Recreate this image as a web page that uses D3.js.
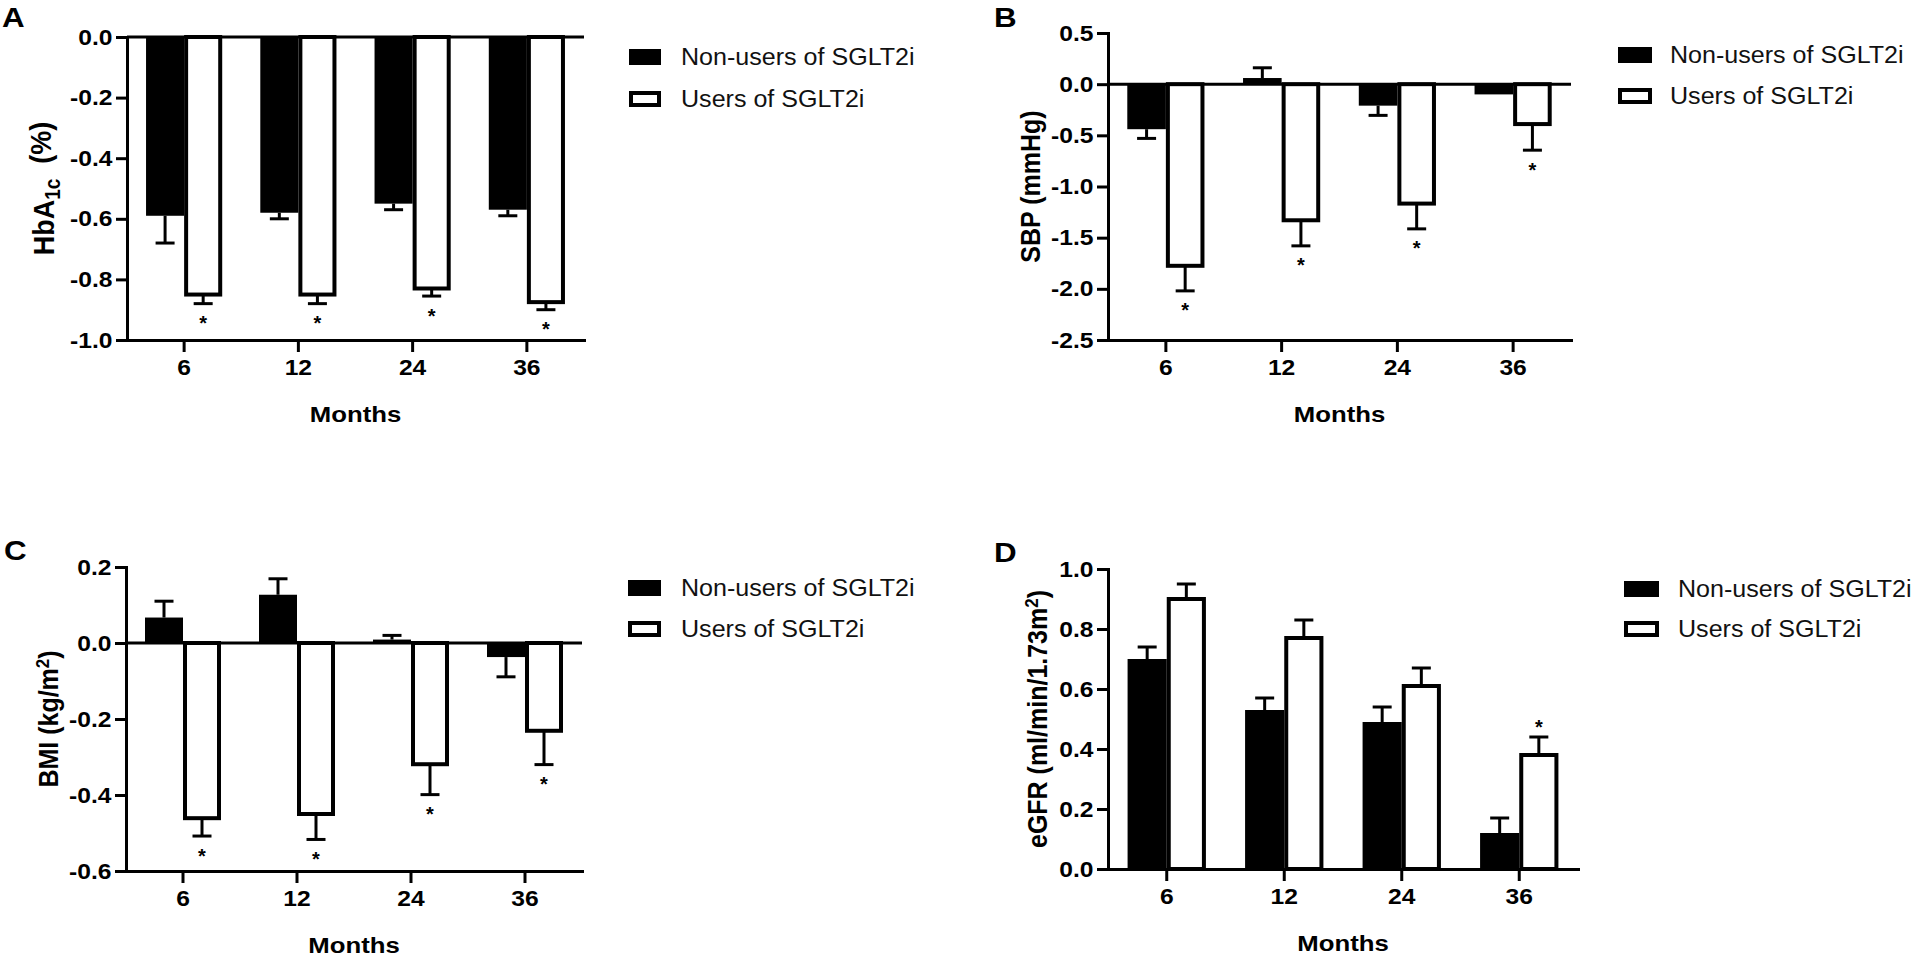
<!DOCTYPE html>
<html><head><meta charset="utf-8">
<script src="https://cdn.jsdelivr.net/npm/d3@7"></script>
<style>
body{margin:0;background:#fff;}
svg{display:block;}
text{font-family:"Liberation Sans", Arial, sans-serif;}
</style>
</head><body>
<svg id="chart" width="1920" height="957"></svg>
<script>
// ---------- data ----------
const months = ["6", "12", "24", "36"];
const seriesNames = ["Non-users of SGLT2i", "Users of SGLT2i"];

const hba1cNon      = [-0.59, -0.58, -0.55, -0.57];
const hba1cNonErr   = [0.09, 0.02, 0.02, 0.02];
const hba1cUsers    = [-0.85, -0.85, -0.83, -0.875];
const hba1cUsersErr = [0.03, 0.03, 0.025, 0.025];
const hba1cStars    = [true, true, true, true];
const hba1cTicks    = [0, -0.2, -0.4, -0.6, -0.8, -1.0];

const sbpNon      = [-0.44, 0.06, -0.21, -0.10];
const sbpNonErr   = [0.09, 0.10, 0.095, 0];
const sbpUsers    = [-1.775, -1.33, -1.167, -0.39];
const sbpUsersErr = [0.245, 0.25, 0.247, 0.255];
const sbpStars    = [true, true, true, true];
const sbpTicks    = [0.5, 0, -0.5, -1.0, -1.5, -2.0, -2.5];

const bmiNon      = [0.067, 0.127, 0.009, -0.037];
const bmiNonErr   = [0.043, 0.042, 0.011, 0.052];
const bmiUsers    = [-0.461, -0.45, -0.319, -0.231];
const bmiUsersErr = [0.047, 0.067, 0.08, 0.089];
const bmiStars    = [true, true, true, true];
const bmiTicks    = [0.2, 0, -0.2, -0.4, -0.6];

const egfrNon      = [0.70, 0.53, 0.49, 0.12];
const egfrNonErr   = [0.04, 0.04, 0.05, 0.05];
const egfrUsers    = [0.90, 0.77, 0.61, 0.38];
const egfrUsersErr = [0.05, 0.06, 0.06, 0.06];
const egfrStars    = [false, false, false, true];
const egfrTicks    = [0, 0.2, 0.4, 0.6, 0.8, 1.0];

// ---------- drawing ----------
const svg = d3.select("#chart");
const SX = 1.12;       // horizontal text stretch of the source figure (bold labels)
const SX_LEG = 1.045;  // stretch for legend text

function stretchedText(g, x, y, str, opts) {
  const sx = opts.sx || SX;
  const t = g.append("text")
    .attr("transform", `translate(${x},${y}) scale(${sx},1)` + (opts.rotate ? " rotate(-90)" : ""))
    .attr("font-size", opts.size)
    .attr("font-weight", opts.weight || "bold")
    .attr("text-anchor", opts.anchor || "start")
    .attr("fill", opts.fill || "#000");
  if (opts.dy) t.attr("dy", opts.dy);
  if (typeof str === "string") t.text(str);
  else str(t);
  return t;
}

function drawPanel(cfg) {
  const g = svg.append("g");
  const x = d3.scaleBand().domain(months).range([cfg.x0, cfg.x1]).paddingInner(0).paddingOuter(0);
  const y = d3.scaleLinear().domain(cfg.domain).range([cfg.yBot, cfg.yTop]);
  const bw = x.step() / 3;
  const axisY = y(cfg.domain[0]);
  const zeroY = y(0);

  // zero line (when x axis is not at 0)
  if (cfg.domain[0] < 0) {
    g.append("line").attr("x1", cfg.x0).attr("x2", cfg.x1)
      .attr("y1", zeroY).attr("y2", zeroY)
      .attr("stroke", "#000").attr("stroke-width", 3);
  }

  // bars
  months.forEach((m, i) => {
    const c = x(m) + x.step() / 2;
    const vn = cfg.non[i], vu = cfg.users[i];
    g.append("rect")
      .attr("x", c - bw).attr("width", bw)
      .attr("y", Math.min(y(vn), zeroY)).attr("height", Math.abs(y(vn) - zeroY))
      .attr("fill", "#000");
    g.append("rect")
      .attr("x", c + 2).attr("width", bw - 4)
      .attr("y", Math.min(y(vu), zeroY)).attr("height", Math.abs(y(vu) - zeroY))
      .attr("fill", "#fff").attr("stroke", "#000").attr("stroke-width", 4);

    const errs = [[c - bw / 2, vn, cfg.nonErr[i]], [c + bw / 2, vu, cfg.usersErr[i]]];
    errs.forEach(([ex, v, e]) => {
      if (!e) return;
      const s = v >= 0 ? 1 : -1;
      const yEnd = y(v + s * e);
      g.append("line").attr("x1", ex).attr("x2", ex)
        .attr("y1", y(v)).attr("y2", yEnd)
        .attr("stroke", "#000").attr("stroke-width", 3);
      g.append("line").attr("x1", ex - 9.5).attr("x2", ex + 9.5)
        .attr("y1", yEnd).attr("y2", yEnd)
        .attr("stroke", "#000").attr("stroke-width", 3);
    });

    if (cfg.stars[i]) {
      const s = vu >= 0 ? 1 : -1;
      const yEnd = y(vu + s * cfg.usersErr[i]);
      const cy = yEnd - s * 15;
      g.append("text").attr("x", c + bw / 2).attr("y", cy + 11.5)
        .attr("text-anchor", "middle").attr("font-size", 20).attr("font-weight", "bold")
        .text("*");
    }
  });

  const ya = g.append("g").attr("transform", `translate(${cfg.x0},0)`)
    .call(d3.axisLeft(y).tickValues(cfg.ticks).tickSize(11).tickSizeOuter(0).tickPadding(2)
      .tickFormat(d => d.toFixed(1)));
  const xa = g.append("g").attr("transform", `translate(0,${axisY})`)
    .call(d3.axisBottom(x).tickSize(12).tickSizeOuter(0).tickPadding(7));

  [ya, xa].forEach(a => {
    a.select(".domain").attr("stroke-width", 3).attr("stroke-linecap", "square");
    a.selectAll(".tick line").attr("stroke-width", 3);
    a.selectAll(".tick text")
      .attr("font-family", "'Liberation Sans', Arial, sans-serif")
      .attr("font-size", 22).attr("font-weight", "bold").attr("fill", "#000")
      .attr("transform", `scale(${SX},1)`);
  });

  stretchedText(g, (cfg.x0 + cfg.x1) / 2, axisY + 82, "Months", {size: 23, anchor: "middle"});

  stretchedText(g, cfg.yLabelX, (cfg.yTop + cfg.yBot) / 2, cfg.yLabel,
    {size: cfg.yLabelSize, anchor: "middle", rotate: true, dy: "0.36em"});

  stretchedText(g, cfg.letterX, cfg.letterY, cfg.letter, {size: 28});

  const L = cfg.legend;
  g.append("rect").attr("x", L.x).attr("y", L.y1).attr("width", L.w).attr("height", 16).attr("fill", "#000");
  g.append("rect").attr("x", L.x + 2).attr("y", L.y2 + 2).attr("width", L.w - 4).attr("height", 12)
    .attr("fill", "#fff").attr("stroke", "#000").attr("stroke-width", 4);
  stretchedText(g, L.tx, L.y1 + 16, seriesNames[0], {size: 24, weight: "normal", fill: "#111", sx: SX_LEG});
  stretchedText(g, L.tx, L.y2 + 16, seriesNames[1], {size: 24, weight: "normal", fill: "#111", sx: SX_LEG});
}

drawPanel({
  letter: "A", letterX: 2, letterY: 27,
  x0: 127, x1: 584, yTop: 37, yBot: 340, domain: [-1.0, 0],
  non: hba1cNon, nonErr: hba1cNonErr, users: hba1cUsers, usersErr: hba1cUsersErr,
  stars: hba1cStars, ticks: hba1cTicks,
  yLabelX: 43, yLabelSize: 27,
  yLabel: t => {
    t.append("tspan").text("HbA");
    t.append("tspan").attr("font-size", 19).attr("dy", "0.3em").text("1c");
    t.append("tspan").attr("dy", "-0.3em").text("\u00a0 (%)");
  },
  legend: {x: 629, w: 32, y1: 49, y2: 91, tx: 681}
});

drawPanel({
  letter: "B", letterX: 994, letterY: 27,
  x0: 1108, x1: 1571, yTop: 33, yBot: 340, domain: [-2.5, 0.5],
  non: sbpNon, nonErr: sbpNonErr, users: sbpUsers, usersErr: sbpUsersErr,
  stars: sbpStars, ticks: sbpTicks,
  yLabelX: 1030, yLabelSize: 25,
  yLabel: "SBP (mmHg)",
  legend: {x: 1618, w: 34, y1: 47, y2: 88, tx: 1670}
});

drawPanel({
  letter: "C", letterX: 4, letterY: 560,
  x0: 126, x1: 582, yTop: 567, yBot: 871, domain: [-0.6, 0.2],
  non: bmiNon, nonErr: bmiNonErr, users: bmiUsers, usersErr: bmiUsersErr,
  stars: bmiStars, ticks: bmiTicks,
  yLabelX: 48, yLabelSize: 25,
  yLabel: t => {
    t.append("tspan").text("BMI (kg/m");
    t.append("tspan").attr("font-size", 17).attr("dy", "-0.5em").text("2");
    t.append("tspan").attr("dy", "0.35em").text(")");
  },
  legend: {x: 628, w: 33, y1: 580, y2: 621, tx: 681}
});

drawPanel({
  letter: "D", letterX: 994, letterY: 562,
  x0: 1108, x1: 1578, yTop: 569, yBot: 869, domain: [0, 1.0],
  non: egfrNon, nonErr: egfrNonErr, users: egfrUsers, usersErr: egfrUsersErr,
  stars: egfrStars, ticks: egfrTicks,
  yLabelX: 1037, yLabelSize: 25,
  yLabel: t => {
    t.append("tspan").text("eGFR (ml/min/1.73m");
    t.append("tspan").attr("font-size", 17).attr("dy", "-0.5em").text("2");
    t.append("tspan").attr("dy", "0.35em").text(")");
  },
  legend: {x: 1624, w: 35, y1: 581, y2: 621, tx: 1678}
});
</script>
</body></html>
